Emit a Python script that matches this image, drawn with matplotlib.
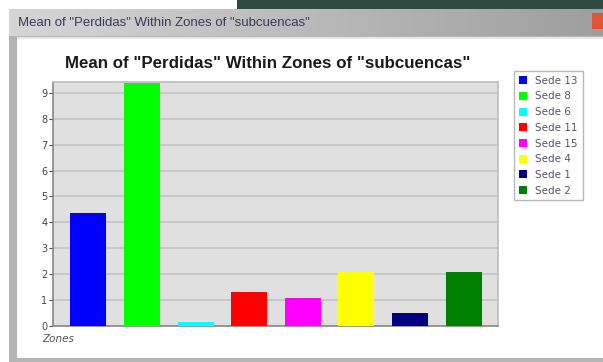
import matplotlib.pyplot as plt
import matplotlib.patches as mpatches
import numpy as np

# medias de perdidas por subcuenca
zonas = ["Sede 13", "Sede 8", "Sede 6", "Sede 11", "Sede 15", "Sede 4", "Sede 1", "Sede 2"]
perdidas = [4.35, 9.38, 0.17, 1.33, 1.1, 2.08, 0.52, 2.1]
colores = ["#0000ff", "#00ff00", "#00ffff", "#ff0000", "#ff00ff", "#ffff00", "#000080", "#008000"]
titulo = 'Mean of "Perdidas" Within Zones of "subcuencas"'

W, H = 603, 362
fig = plt.figure(figsize=(W / 100, H / 100), dpi=100)
fig.patch.set_facecolor("white")

def caja(x0, y0, x1, y1, color):
    # rectangulo en pixeles (origen arriba a la izquierda), detras de los ejes
    fig.patches.append(mpatches.Rectangle((x0 / W, 1 - y1 / H), (x1 - x0) / W, (y1 - y0) / H,
                                          transform=fig.transFigure, facecolor=color,
                                          edgecolor="none", zorder=-10))

# marco de la ventana
caja(237, 0, 603, 9, "#2f4a40")
caja(9, 9, 603, 362, "#b4b4b4")
caja(17, 37, 603, 358, "white")
caja(17, 37, 603, 39, "#e8e8e8")

barra = fig.add_axes([9 / W, 1 - 36 / H, 594 / W, 27 / H])
grad = np.linspace(0, 1, 256)
fondo = np.array([0.84, 0.84, 0.84])[None, :] * (1 - grad[:, None]) + np.array([0.62, 0.62, 0.62])[None, :] * grad[:, None]
barra.imshow(fondo[None, :, :], aspect="auto", extent=[0, 1, 0, 1])
barra.add_patch(mpatches.Rectangle((0.982, 0.25), 0.02, 0.6, facecolor="#e0553a", edgecolor="none"))
barra.text(0.015, 0.5, titulo, fontsize=9.5, color="#3a3a5a", va="center", family="Liberation Sans")
barra.set_xlim(0, 1)
barra.set_ylim(0, 1)
barra.axis("off")

# grafico de barras
ax = fig.add_axes([53 / W, 1 - 326 / H, 445 / W, 244 / H])
ax.set_facecolor("#e0e0e0")
x = np.arange(len(zonas))
barras = ax.bar(x, perdidas, width=0.67, color=colores, zorder=3)
ax.set_xlim(-0.66, 7.64)
ax.set_ylim(0, 9.42)
ax.set_yticks(range(10))
ax.set_xticks([])
ax.yaxis.grid(True, color="#c4c4c4", linewidth=1.2, zorder=0)
ax.tick_params(axis="y", labelsize=7, length=3, width=0.8, color="#444444", labelcolor="#444444", pad=1)
for s in ax.spines.values():
    s.set_color("#bdbdbd")
    s.set_linewidth(1.2)
ax.spines["left"].set_color("#888888")
ax.spines["bottom"].set_color("#888888")

fig.text(268 / W, 1 - 63 / H, titulo, fontsize=12.2, fontweight="bold", ha="center", va="center",
         family="Liberation Sans", color="#1a1a1a")
fig.text(42 / W, 1 - 339 / H, "Zones", fontsize=7.5, style="italic", color="#555555", va="center",
         family="DejaVu Sans")

fig.legend(barras, zonas, loc="upper left", bbox_to_anchor=(514 / W, 1 - 71 / H), borderaxespad=0,
           frameon=True, fancybox=False, edgecolor="#b8b8b8", framealpha=1,
           handlelength=0.8, handleheight=0.8, handletextpad=0.8, labelspacing=0.55,
           borderpad=0.45, labelcolor="#555566", prop={"family": "DejaVu Sans", "size": 7.5})

plt.savefig("out.png", dpi=100)
